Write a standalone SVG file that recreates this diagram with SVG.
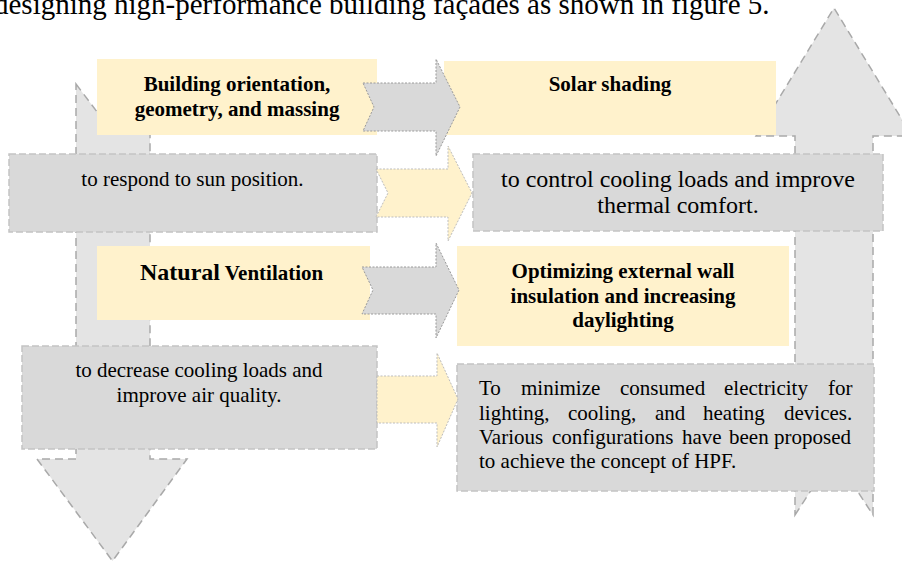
<svg xmlns="http://www.w3.org/2000/svg" width="902" height="562" viewBox="0 0 902 562">
<style>
  text { font-family: "Liberation Serif", "Times New Roman", serif; fill: #000; }
  .b { font-weight: bold; font-size: 21px; }
  .r { font-size: 21px; }
  .m { text-anchor: middle; }
  .big { fill: #e4e4e4; stroke: #a9a9a9; stroke-width: 1.5; stroke-dasharray: 8 5; }
  .ybox { fill: #fff2cc; }
  .gbox { fill: #d9d9d9; stroke: #c4c4c4; stroke-width: 1.5; stroke-dasharray: 7 3; }
  .garr { fill: #d9d9d9; stroke: #9a9a9a; stroke-width: 1; stroke-dasharray: 2 1.5; }
  .yarr { fill: #fff2cc; stroke: #bdbdbd; stroke-width: 1; stroke-dasharray: 2 1.5; }
</style>
<rect width="902" height="562" fill="#ffffff"/>
<text x="-6" y="13.5" font-size="29">designing high-performance building façades as shown in figure 5.</text>

<g id="flow-arrows">
  <path class="big" d="M76,84 L113,133 L150,84 L150,459 L187,459 L112.5,561 L37,459 L76,459 Z"/>
  <path class="big" d="M795,515 L834,455 L873,515 L873,136 L912,136 L834,8 L756,136 L795,136 Z"/>
</g>

<g id="node-orientation">
  <rect class="ybox" x="97" y="59" width="280" height="76"/>
  <text class="b m" x="237" y="91">Building orientation,</text>
  <text class="b m" x="237" y="116">geometry, and massing</text>
</g>
<g id="node-shading">
  <rect class="ybox" x="444" y="61" width="332" height="74"/>
  <text class="b m" x="610" y="91">Solar shading</text>
</g>
<g id="node-sun">
  <rect class="gbox" x="9" y="154" width="368" height="78"/>
  <text class="r m" x="192.5" y="186">to respond to sun position.</text>
</g>
<g id="node-cooling">
  <rect class="gbox" x="473" y="154" width="410" height="77"/>
  <text class="m" font-size="24" x="678" y="187">to control cooling loads and improve</text>
  <text class="m" font-size="24" x="678" y="213">thermal comfort.</text>
</g>
<g id="node-ventilation">
  <rect class="ybox" x="97" y="246" width="273" height="74"/>
  <text class="b" x="140" y="280"><tspan font-size="24">Natural</tspan><tspan font-size="21"> Ventilation</tspan></text>
</g>
<g id="node-insulation">
  <rect class="ybox" x="457" y="246" width="332" height="100"/>
  <text class="b m" x="623" y="278">Optimizing external wall</text>
  <text class="b m" x="623" y="303">insulation and increasing</text>
  <text class="b m" x="623" y="327">daylighting</text>
</g>
<g id="node-air">
  <rect class="gbox" x="22" y="346" width="355" height="103"/>
  <text class="r m" x="199" y="377">to decrease cooling loads and</text>
  <text class="r m" x="199" y="402">improve air quality.</text>
</g>
<g id="node-electricity">
  <rect class="gbox" x="457" y="364" width="417" height="127"/>
  <text class="r" y="395"><tspan x="479">To</tspan><tspan x="521">minimize</tspan><tspan x="620">consumed</tspan><tspan x="724">electricity</tspan><tspan x="828">for</tspan></text>
  <text class="r" y="420"><tspan x="479">lighting,</tspan><tspan x="568">cooling,</tspan><tspan x="655">and</tspan><tspan x="703">heating</tspan><tspan x="784">devices.</tspan></text>
  <text class="r" y="444"><tspan x="479">Various</tspan><tspan x="552">configurations</tspan><tspan x="682">have</tspan><tspan x="729">been</tspan><tspan x="774">proposed</tspan></text>
  <text class="r" x="479" y="468">to achieve the concept of HPF.</text>
</g>

<g id="connectors">
  <path class="garr" d="M363,83 L436,83 L436,59 L460,107 L436,156 L436,131 L363,131 L374,107 Z"/>
  <path class="yarr" d="M376,169 L448,169 L448,146 L472,193 L448,241 L448,217 L376,217 L388,193 Z"/>
  <path class="garr" d="M362,267 L436,267 L436,243 L459,290 L436,338 L436,314 L362,314 L373,290 Z"/>
  <path class="yarr" d="M377,376 L437,376 L437,353 L458,399 L437,447 L437,423 L377,423 Z"/>
</g>
</svg>
